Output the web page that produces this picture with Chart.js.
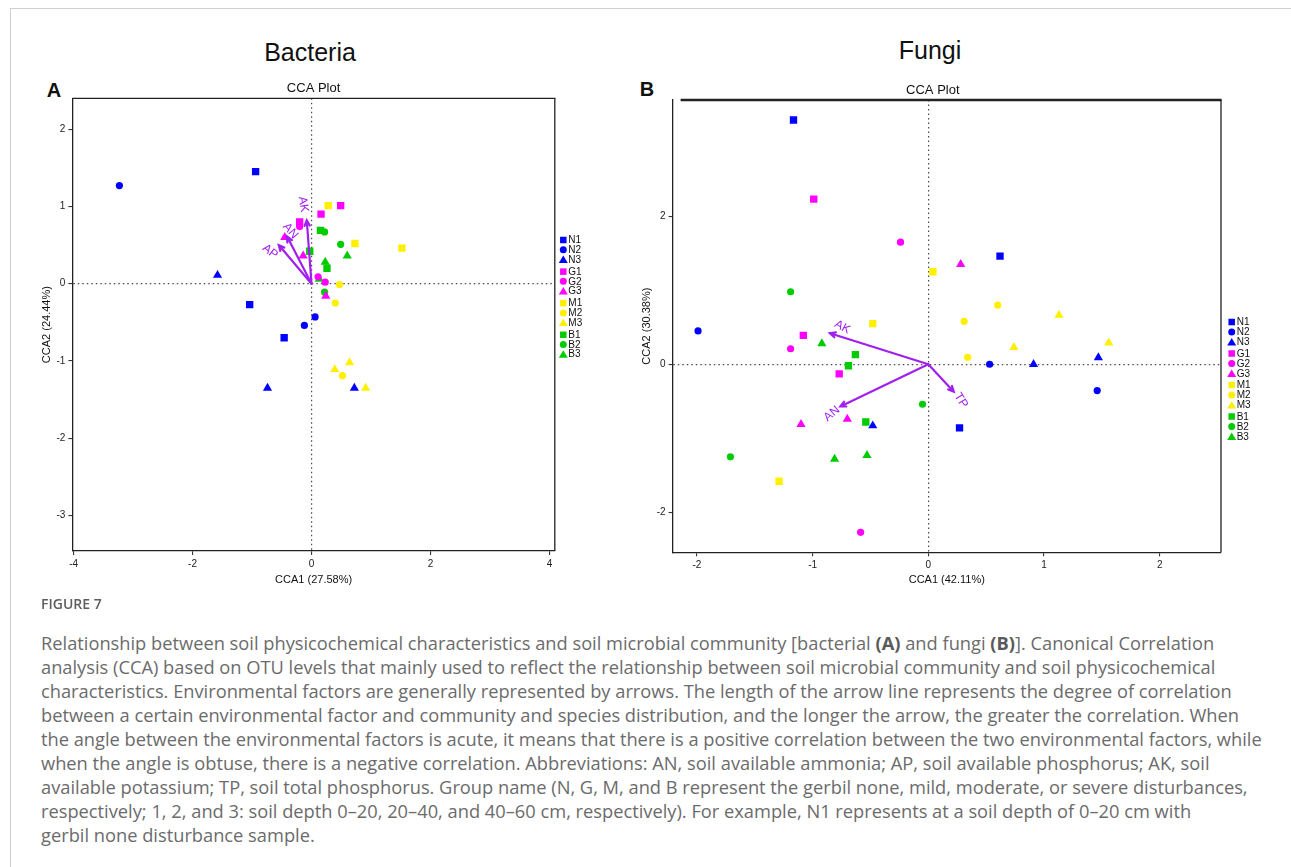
<!DOCTYPE html>
<html>
<head>
<meta charset="utf-8">
<title>Figure 7 - CCA</title>
<script src="https://cdn.jsdelivr.net/npm/chart.js@4.4.1/dist/chart.umd.min.js"></script>
<style>
  html, body { margin: 0; padding: 0; background: #fff; }
  body { position: relative; width: 1291px; height: 867px; overflow: hidden; font-family: "Liberation Sans", Arial, sans-serif; color: #111; }
  .card { position: absolute; left: 10px; top: 8px; width: 1281px; height: 859px; border-top: 1px solid #cfcfcf; border-left: 1px solid #cfcfcf; }
  .big { position: absolute; font-size: 25px; transform: translate(-50%, -50%); white-space: nowrap; }
  .tag { position: absolute; font-size: 20px; font-weight: bold; transform: translate(-50%, -50%); }
  .box { position: absolute; }
  .fig { position: absolute; left: 41px; top: 594px; font-family: "Open Sans", sans-serif; font-size: 14px; font-weight: 600; color: #5e5e5e; }
  .caption { position: absolute; left: 41px; top: 631px; font-family: "Open Sans", sans-serif; font-size: 16px; font-weight: 400; line-height: 24px; color: #6b6b6b; white-space: nowrap; }
  .caption b { font-weight: 700; color: #5a5a5a; }
</style>
</head>
<body>
<div class="card"></div>

<div class="big" style="left:310px; top:52px;">Bacteria</div>
<div class="big" style="left:930px; top:50px;">Fungi</div>
<div class="tag" style="left:54px; top:90px;">A</div>
<div class="tag" style="left:647px; top:89px;">B</div>

<div class="box" style="left:0px; top:80px;"><canvas id="bactChart" width="640" height="530"></canvas></div>
<div class="box" style="left:625px; top:80px;"><canvas id="fungiChart" width="666" height="530"></canvas></div>

<div class="fig">FIGURE 7</div>
<div class="caption" id="caption">
  <div>Relationship between soil physicochemical characteristics and soil microbial community [bacterial <b>(A)</b> and fungi <b>(B)</b>]. Canonical Correlation</div>
  <div>analysis (CCA) based on OTU levels that mainly used to reflect the relationship between soil microbial community and soil physicochemical</div>
  <div>characteristics. Environmental factors are generally represented by arrows. The length of the arrow line represents the degree of correlation</div>
  <div>between a certain environmental factor and community and species distribution, and the longer the arrow, the greater the correlation. When</div>
  <div id="longLine">the angle between the environmental factors is acute, it means that there is a positive correlation between the two environmental factors, while</div>
  <div>when the angle is obtuse, there is a negative correlation. Abbreviations: AN, soil available ammonia; AP, soil available phosphorus; AK, soil</div>
  <div>available potassium; TP, soil total phosphorus. Group name (N, G, M, and B represent the gerbil none, mild, moderate, or severe disturbances,</div>
  <div>respectively; 1, 2, and 3: soil depth 0–20, 20–40, and 40–60 cm, respectively). For example, N1 represents at a soil depth of 0–20 cm with</div>
  <div>gerbil none disturbance sample.</div>
</div>

<script>
// sample groups: N/G/M/B disturbance, 1/2/3 soil depth
const groups = ['N1', 'N2', 'N3', 'G1', 'G2', 'G3', 'M1', 'M2', 'M3', 'B1', 'B2', 'B3'];

// Bacteria (A): site scores, three replicates per group
const bactCCA1 = [
    [-0.94, -1.04, -0.46],
    [-3.23, 0.06, -0.12],
    [-1.58, -0.74, 0.72],
    [-0.20, 0.16, 0.49],
    [-0.20, 0.11, 0.23],
    [-0.45, -0.14, 0.24],
    [0.28, 0.73, 1.52],
    [0.47, 0.40, 0.52],
    [0.39, 0.64, 0.91],
    [-0.03, 0.15, 0.26],
    [0.22, 0.49, 0.22],
    [0.60, 0.23, 0.13]
];
const bactCCA2 = [
    [1.45, -0.27, -0.70],
    [1.27, -0.43, -0.54],
    [0.11, -1.35, -1.35],
    [0.80, 0.90, 1.01],
    [0.74, 0.09, 0.02],
    [0.60, 0.36, -0.16],
    [1.01, 0.52, 0.46],
    [-0.01, -0.25, -1.19],
    [-1.11, -1.02, -1.35],
    [0.42, 0.69, 0.20],
    [0.67, 0.51, -0.11],
    [0.36, 0.28, 0.06]
];
const bactFactors = ['AK', 'AN', 'AP'];
const bactFactorCCA1 = [-0.08, -0.41, -0.55];
const bactFactorCCA2 = [0.82, 0.61, 0.50];
const bactTicksX = [-4, -2, 0, 2, 4];
const bactTicksY = [-3, -2, -1, 0, 1, 2];

// Fungi (B)
const fungiCCA1 = [
    [-1.165, 0.62, 0.27],
    [-1.99, 0.53, 1.46],
    [0.91, 1.47, -0.48],
    [-0.99, -1.08, -0.77],
    [-0.24, -1.19, -0.585],
    [0.28, -0.70, -1.10],
    [0.04, -0.48, -1.29],
    [0.60, 0.31, 0.34],
    [1.13, 0.74, 1.56],
    [-0.63, -0.69, -0.54],
    [-1.19, -0.05, -1.71],
    [-0.92, -0.81, -0.53]
];
const fungiCCA2 = [
    [3.30, 1.46, -0.86],
    [0.45, 0.00, -0.355],
    [0.00, 0.09, -0.83],
    [2.23, 0.39, -0.13],
    [1.65, 0.21, -2.27],
    [1.35, -0.74, -0.81],
    [1.25, 0.55, -1.58],
    [0.80, 0.58, 0.095],
    [0.665, 0.23, 0.29],
    [0.13, -0.02, -0.78],
    [0.98, -0.54, -1.25],
    [0.28, -1.28, -1.23]
];
const fungiFactors = ['AK', 'AN', 'TP'];
const fungiFactorCCA1 = [-0.85, -0.76, 0.22];
const fungiFactorCCA2 = [0.42, -0.57, -0.37];
const fungiTicksX = [-2, -1, 0, 1, 2];
const fungiTicksY = [-2, 0, 2];

// styling
const groupColors = { N: '#0000FF', G: '#FF00FF', M: '#FFEF00', B: '#00CC00' };
const depthShapes = ['rect', 'circle', 'triangle'];
const shapeRadius = { rect: 5.2, circle: 3.6, triangle: 5.3 };
const arrowColor = '#A020F0';
const bactLabelStyle = [{ dx: -3.5, dy: -16, rot: 82 }, { dx: 3.3, dy: -5.7, rot: 50 }, { dx: -8.8, dy: 6.5, rot: 38 }];
const fungiLabelStyle = [{ dx: 12.4, dy: -6, rot: 28 }, { dx: -8.5, dy: 7.4, rot: -40 }, { dx: 7.2, dy: 8.8, rot: 58 }];

function makeDatasets(cca1, cca2) {
    return groups.map((g, i) => {
        const shape = depthShapes[Number(g[1]) - 1];
        return {
            label: g,
            data: cca1[i].map((v, j) => ({ x: v, y: cca2[i][j] })),
            pointStyle: shape,
            pointRadius: shapeRadius[shape],
            pointHoverRadius: shapeRadius[shape],
            backgroundColor: groupColors[g[0]],
            borderWidth: 0
        };
    });
}

function drawMarker(ctx, shape, x, y, s) {
    ctx.beginPath();
    if (shape === 'rect') {
        ctx.rect(x - s / 2, y - s / 2, s, s);
    } else if (shape === 'circle') {
        ctx.arc(x, y, s / 2, 0, Math.PI * 2);
    } else {
        const h = s * 0.87;
        ctx.moveTo(x, y - h / 2 - 0.5);
        ctx.lineTo(x + s / 2 + 0.5, y + h / 2);
        ctx.lineTo(x - s / 2 - 0.5, y + h / 2);
        ctx.closePath();
    }
    ctx.fill();
}

// frame, "CCA Plot" title, environmental arrows and group legend
const ccaExtras = {
    id: 'ccaExtras',
    afterDraw(chart, args, opts) {
        const { ctx, chartArea: a } = chart;
        const xs = chart.scales.x, ys = chart.scales.y;
        ctx.save();

        ctx.strokeStyle = '#222';
        ctx.lineWidth = 1.3;
        ctx.beginPath();
        ctx.moveTo(a.right, a.bottom);
        ctx.lineTo(a.right, a.top);
        ctx.stroke();
        ctx.lineWidth = opts.topWidth;
        ctx.beginPath();
        ctx.moveTo(a.left + opts.topInset, a.top);
        ctx.lineTo(a.right + 0.6, a.top);
        ctx.stroke();

        ctx.fillStyle = '#111';
        ctx.font = '13px "Liberation Sans", Arial, sans-serif';
        ctx.textAlign = 'center';
        ctx.textBaseline = 'middle';
        ctx.fillText('CCA Plot', (a.left + a.right) / 2 + opts.titleShift, a.top - 9.5);

        const x0 = xs.getPixelForValue(0), y0 = ys.getPixelForValue(0);
        ctx.strokeStyle = arrowColor;
        ctx.fillStyle = arrowColor;
        ctx.lineWidth = 2.2;
        ctx.lineCap = 'round';
        opts.names.forEach((name, i) => {
            const tx = xs.getPixelForValue(opts.cca1[i]);
            const ty = ys.getPixelForValue(opts.cca2[i]);
            const ang = Math.atan2(ty - y0, tx - x0);
            ctx.beginPath();
            ctx.moveTo(x0, y0);
            ctx.lineTo(tx, ty);
            ctx.moveTo(tx - 6 * Math.cos(ang - 0.45), ty - 6 * Math.sin(ang - 0.45));
            ctx.lineTo(tx, ty);
            ctx.lineTo(tx - 6 * Math.cos(ang + 0.45), ty - 6 * Math.sin(ang + 0.45));
            ctx.stroke();

            const st = opts.labels[i];
            ctx.save();
            ctx.translate(tx + st.dx, ty + st.dy);
            ctx.rotate(st.rot * Math.PI / 180);
            ctx.font = '12px "Liberation Sans", Arial, sans-serif';
            ctx.fillText(name, 0, 0);
            ctx.restore();
        });

        ctx.textAlign = 'left';
        ctx.font = '10px "Liberation Sans", Arial, sans-serif';
        const lx = a.right + opts.legendX;
        chart.data.datasets.forEach((ds, i) => {
            const ly = opts.legendTop + i * opts.legendStep + Math.floor(i / 3) * opts.legendGap;
            ctx.fillStyle = ds.backgroundColor;
            const s = ds.pointStyle === 'triangle' ? 8 : (ds.pointStyle === 'rect' ? 6.5 : 7);
            drawMarker(ctx, ds.pointStyle, lx, ly, s);
            ctx.fillStyle = '#111';
            ctx.fillText(ds.label, lx + 5, ly + 0.5);
        });
        ctx.restore();
    }
};

function axis(min, max, ticks, title, size) {
    const horizontal = size.h !== undefined;
    return {
        type: 'linear',
        min: min,
        max: max,
        afterBuildTicks: s => { s.ticks = ticks.map(v => ({ value: v })); },
        afterFit: s => {
            if (horizontal) s.height = size.h; else s.width = size.w;
        },
        ticks: {
            color: '#222',
            font: { size: 10, family: '"Liberation Sans", Arial, sans-serif' },
            padding: 3,
            maxRotation: 0,
            callback: v => String(v)
        },
        grid: {
            color: c => (c.tick && c.tick.value === 0) ? '#4a4a4a' : 'rgba(0,0,0,0)',
            lineWidth: 1.2,
            drawTicks: true,
            tickLength: 4,
            tickColor: '#222',
            tickWidth: 1
        },
        border: { display: true, color: '#222', width: 1.3, dash: [1.5, 3] },
        title: {
            display: true,
            text: title,
            color: '#111',
            font: { size: 11, family: '"Liberation Sans", Arial, sans-serif' },
            padding: { top: 4, bottom: 4 }
        }
    };
}

function ccaChart(id, cca1, cca2, cfg) {
    return new Chart(document.getElementById(id), {
        type: 'scatter',
        data: { datasets: makeDatasets(cca1, cca2) },
        options: {
            responsive: false,
            animation: false,
            layout: { padding: cfg.padding },
            scales: {
                x: axis(cfg.xRange[0], cfg.xRange[1], cfg.xTicks, cfg.xTitle, { h: cfg.xHeight }),
                y: axis(cfg.yRange[0], cfg.yRange[1], cfg.yTicks, cfg.yTitle, { w: cfg.yWidth })
            },
            plugins: {
                legend: { display: false },
                tooltip: { enabled: false },
                ccaExtras: cfg.extras
            }
        },
        plugins: [ccaExtras]
    });
}

ccaChart('bactChart', bactCCA1, bactCCA2, {
    padding: { left: 36, top: 18.3, right: 85.2, bottom: 19.4 },
    xRange: [-4.02, 4.09], yRange: [-3.46, 2.40],
    xTicks: bactTicksX, yTicks: bactTicksY,
    xTitle: 'CCA1 (27.58%)', yTitle: 'CCA2 (24.44%)',
    xHeight: 39.6, yWidth: 36.4,
    extras: {
        names: bactFactors, cca1: bactFactorCCA1, cca2: bactFactorCCA2, labels: bactLabelStyle,
        topWidth: 1.3, topInset: 0, titleShift: 0,
        legendX: 8.5, legendTop: 160, legendStep: 9.7, legendGap: 2.5
    }
});

ccaChart('fungiChart', fungiCCA1, fungiCCA2, {
    padding: { left: 11.6, top: 20, right: 70, bottom: 19.4 },
    xRange: [-2.21, 2.53], yRange: [-2.54, 3.57],
    xTicks: fungiTicksX, yTicks: fungiTicksY,
    xTitle: 'CCA1 (42.11%)', yTitle: 'CCA2 (30.38%)',
    xHeight: 38.3, yWidth: 36,
    extras: {
        names: fungiFactors, cca1: fungiFactorCCA1, cca2: fungiFactorCCA2, labels: fungiLabelStyle,
        topWidth: 2.6, topInset: 8, titleShift: -14,
        legendX: 10.7, legendTop: 242, legendStep: 10, legendGap: 1.5
    }
});

// size the caption so its longest line spans the same width as in the figure
const longLine = document.getElementById('longLine');
const caption = document.getElementById('caption');
const w = longLine.getBoundingClientRect().width;
caption.style.fontSize = (16 * 1221 / w).toFixed(2) + 'px';
</script>
</body>
</html>
